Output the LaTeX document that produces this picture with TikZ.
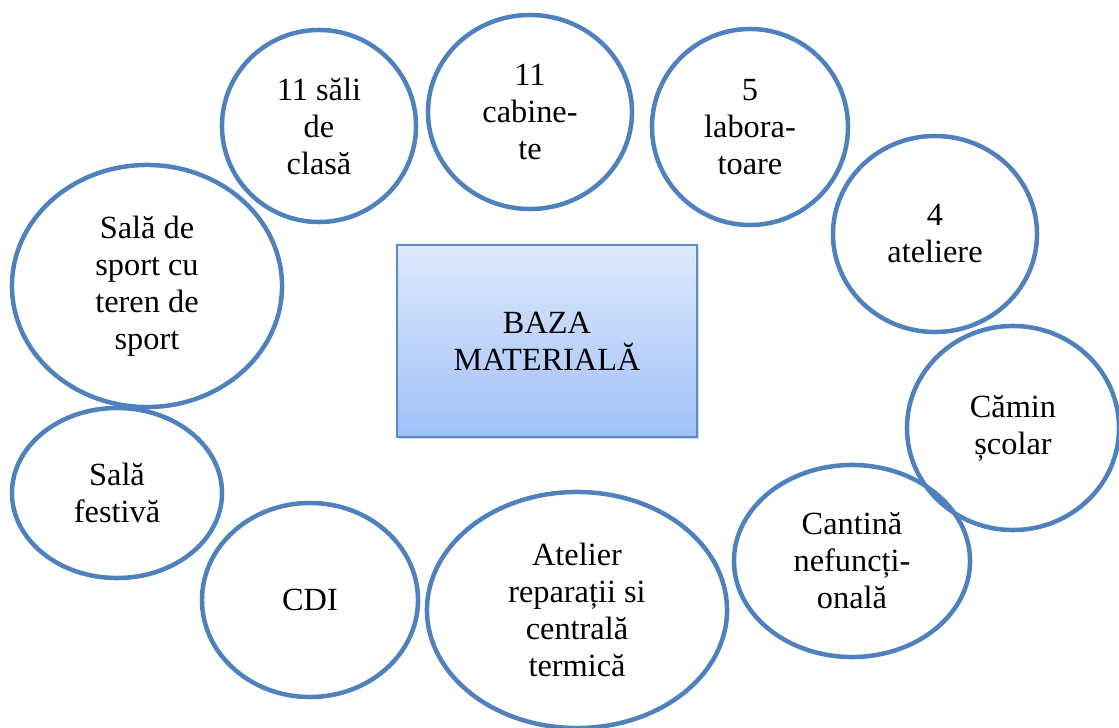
\documentclass[tikz,border=0pt]{standalone}
\usepackage{fontspec}
\setmainfont{Liberation Serif}
\usetikzlibrary{shapes.geometric,shadows}
\definecolor{ringblue}{RGB}{79,129,189}
\definecolor{boxtop}{RGB}{222,233,253}
\definecolor{boxbot}{RGB}{160,193,247}
\definecolor{boxline}{RGB}{88,138,204}
\begin{document}
\begin{tikzpicture}[x=0.025cm, y=-0.025cm,
  ring/.style={ellipse, draw=ringblue, line width=3.2pt, inner sep=0pt, align=center, font=\fontsize{23}{26.3}\selectfont},
  basebox/.style={rectangle, draw=boxline, line width=0.8pt, top color=boxtop, bottom color=boxbot, align=center, minimum width=7.5cm, minimum height=4.8cm, drop shadow={shadow xshift=1.5pt, shadow yshift=-1.5pt, opacity=0.3}, font=\fontsize{23}{26.3}\selectfont}]
\useasboundingbox (0,0) rectangle (1119,728);

% centru
\node[basebox] (baza) at (547,341) {BAZA\\MATERIALĂ};

% cercul de sali
\node[ring, minimum width=4.85cm, minimum height=4.8cm] (sali) at (319,126) {11 săli\\de\\clasă};
\node[ring, minimum width=5.1cm, minimum height=4.85cm] (cab) at (530,112) {11\\cabine-\\te};
\node[ring, minimum width=4.9cm, minimum height=4.9cm] (lab) at (750,127) {5\\labora-\\toare};
\node[ring, minimum width=5.1cm, minimum height=4.9cm] (atel) at (935,234) {4\\ateliere};
\node[ring, minimum width=5.3cm, minimum height=5.1cm] (camin) at (1013,428) {Cămin\\școlar};
\node[ring, minimum width=5.9cm, minimum height=4.8cm] (cant) at (852,561) {Cantină\\nefuncți-\\onală};
\node[ring, minimum width=7.5cm, minimum height=5.9cm] (repar) at (577,610) {Atelier\\reparații si\\centrală\\termică};
\node[ring, minimum width=5.4cm, minimum height=4.85cm] (cdi) at (310,600) {CDI};
\node[ring, minimum width=5.25cm, minimum height=4.25cm] (fest) at (117,493) {Sală\\festivă};
\node[ring, minimum width=6.75cm, minimum height=6.05cm] (sport) at (147,286) {Sală de\\sport cu\\teren de\\sport};

\end{tikzpicture}
\end{document}
